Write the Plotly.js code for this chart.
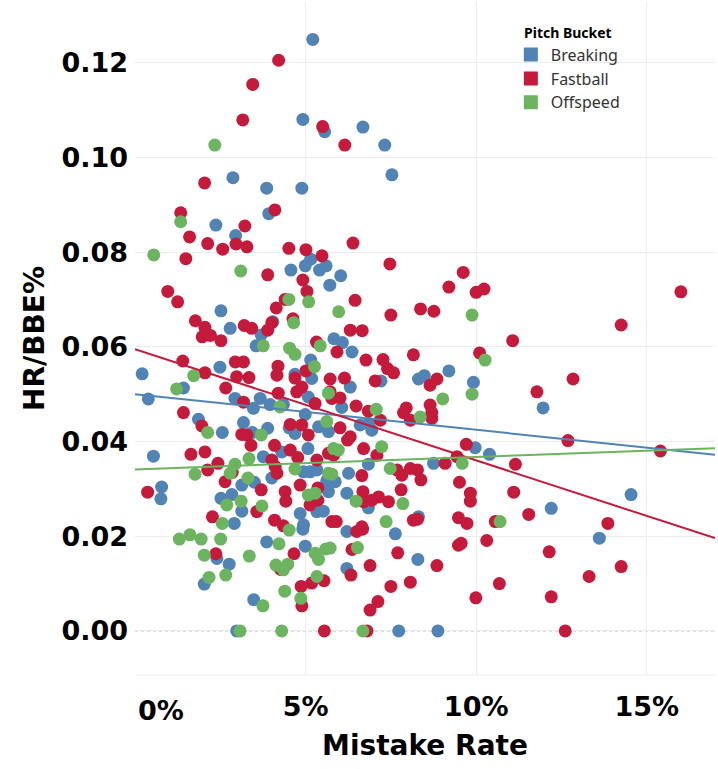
<!DOCTYPE html>
<html>
<head>
<meta charset="utf-8">
<script src="https://cdn.plot.ly/plotly-3.0.1.min.js"></script>
<style>
  html, body { margin: 0; padding: 0; background: #fff; }
  #chart { width: 718px; height: 769px; }
</style>
</head>
<body>
<div id="chart"></div>
<script>
// Mistake rate (%) and HR/BBE% per pitcher
const breakingX = [5.21, 4.92, 5.56, 6.68, 7.32, 7.53, 2.87, 3.86, 4.89, 3.92, 2.37, 2.95, 5.15, 4.99, 4.57, 5.41,
    5.60, 6.03, 5.71, 2.52, 2.79, 4.04, 3.70, 3.55, 5.83, 6.08, 6.36, 2.49, 5.15, 0.21, 4.69, 9.20, 8.48, 8.31,
    7.21, 9.92, 5.18, 1.42, 0.39, 2.93, 3.67, 3.47, 3.96, 4.35, 5.08, 4.99, 1.86, 2.56, 3.18, 3.44, 3.89, 4.52,
    4.69, 5.38, 5.67, 4.30, 5.07, 0.54, 3.76, 3.13, 3.50, 4.01, 4.94, 5.13, 5.33, 5.62, 5.67, 5.33, 5.52, 4.84,
    0.78, 0.76, 2.52, 2.84, 3.13, 2.91, 4.94, 6.31, 6.06, 6.60, 6.94, 6.85, 6.84, 8.75, 9.97, 10.39, 6.26, 5.87,
    6.21, 6.84, 8.31, 11.96, 14.54, 12.20, 4.92, 3.86, 4.99, 2.40, 2.76, 2.03, 3.48, 6.21, 7.63, 8.29, 6.21,
    13.61, 2.98, 7.73, 8.88];
const breakingY = [0.1249, 0.1080, 0.1054, 0.1064, 0.1026, 0.0963, 0.0957, 0.0935, 0.0935, 0.0881, 0.0857, 0.0835,
    0.0785, 0.0771, 0.0762, 0.0762, 0.0771, 0.0750, 0.0730, 0.0676, 0.0639, 0.0653, 0.0625, 0.0602, 0.0617,
    0.0609, 0.0589, 0.0557, 0.0572, 0.0543, 0.0542, 0.0549, 0.0539, 0.0532, 0.0528, 0.0525, 0.0533, 0.0513,
    0.0490, 0.0491, 0.0491, 0.0470, 0.0478, 0.0478, 0.0494, 0.0457, 0.0447, 0.0419, 0.0440, 0.0419, 0.0428,
    0.0429, 0.0417, 0.0431, 0.0421, 0.0378, 0.0385, 0.0369, 0.0368, 0.0308, 0.0314, 0.0323, 0.0336, 0.0336,
    0.0340, 0.0317, 0.0294, 0.0252, 0.0253, 0.0248, 0.0304, 0.0279, 0.0280, 0.0288, 0.0253, 0.0227, 0.0224,
    0.0515, 0.0472, 0.0435, 0.0424, 0.0438, 0.0352, 0.0354, 0.0387, 0.0373, 0.0333, 0.0315, 0.0291, 0.0260,
    0.0241, 0.0471, 0.0288, 0.0259, 0.0215, 0.0188, 0.0179, 0.0153, 0.0141, 0.0099, 0.0066, 0.0210, 0.0205,
    0.0151, 0.0132, 0.0196, 0, 0, 0];

const fastballX = [4.21, 3.45, 3.16, 5.50, 6.15, 2.04, 4.10, 1.34, 3.22, 1.60, 2.13, 2.57, 2.96, 3.28, 1.49, 3.89,
    4.51, 5.01, 5.48, 4.92, 5.04, 6.39, 0.96, 1.25, 6.45, 4.40, 4.14, 1.77, 2.05, 3.20, 3.42, 4.01, 4.63, 1.97,
    2.21, 2.52, 3.89, 6.31, 5.32, 5.92, 1.40, 2.94, 3.18, 4.19, 5.01, 2.05, 2.98, 3.34, 4.16, 4.69, 5.72, 6.14,
    7.47, 9.62, 9.20, 10.00, 10.23, 7.50, 8.37, 8.76, 6.66, 11.07, 6.77, 7.27, 8.16, 10.10, 7.40, 7.58, 8.85,
    7.04, 16.00, 14.25, 12.84, 2.66, 3.18, 4.20, 4.89, 4.74, 5.28, 5.77, 1.42, 1.96, 3.13, 3.28, 3.40, 4.55,
    4.89, 5.08, 4.09, 4.55, 4.77, 5.33, 5.67, 1.64, 2.05, 2.43, 2.13, 2.85, 4.01, 4.11, 4.16, 2.64, 3.70, 4.84,
    4.40, 4.42, 5.36, 5.36, 5.13, 0.37, 3.57, 2.27, 4.09, 4.35, 5.77, 8.65, 5.72, 6.01, 6.48, 6.84, 7.19, 6.01,
    7.95, 7.87, 8.07, 8.65, 8.70, 8.70, 6.31, 6.23, 6.70, 7.09, 5.82, 7.68, 7.82, 8.07, 8.28, 8.38, 7.80, 9.09,
    9.44, 9.71, 11.15, 6.65, 6.68, 6.70, 7.14, 7.43, 6.94, 9.51, 9.83, 9.83, 11.10, 11.54, 5.90, 6.65, 8.16,
    8.28, 9.48, 9.73, 10.56, 11.78, 12.69, 15.40, 13.86, 4.66, 2.37, 4.27, 4.87, 5.18, 5.54, 4.89, 6.50, 6.67,
    6.36, 7.70, 9.48, 9.56, 10.31, 8.85, 6.33, 6.89, 7.50, 8.07, 10.68, 9.99, 7.12, 6.89, 12.14, 14.25, 13.31,
    12.20, 5.55, 6.80, 12.61];
const fastballY = [0.1205, 0.1154, 0.1079, 0.1065, 0.1026, 0.0946, 0.0889, 0.0883, 0.0855, 0.0832, 0.0818, 0.0806,
    0.0817, 0.0811, 0.0786, 0.0752, 0.0808, 0.0805, 0.0792, 0.0741, 0.0717, 0.0819, 0.0717, 0.0695, 0.0698,
    0.0700, 0.0682, 0.0655, 0.0641, 0.0645, 0.0639, 0.0651, 0.0659, 0.0621, 0.0624, 0.0613, 0.0635, 0.0635,
    0.0610, 0.0589, 0.0570, 0.0568, 0.0568, 0.0559, 0.0549, 0.0545, 0.0537, 0.0535, 0.0540, 0.0534, 0.0532,
    0.0534, 0.0775, 0.0757, 0.0726, 0.0715, 0.0722, 0.0667, 0.0680, 0.0675, 0.0634, 0.0613, 0.0572, 0.0573,
    0.0583, 0.0587, 0.0554, 0.0545, 0.0532, 0.0528, 0.0716, 0.0646, 0.0532, 0.0513, 0.0483, 0.0502, 0.0515,
    0.0505, 0.0480, 0.0491, 0.0461, 0.0433, 0.0415, 0.0414, 0.0392, 0.0436, 0.0435, 0.0414, 0.0392, 0.0382,
    0.0366, 0.0361, 0.0375, 0.0373, 0.0378, 0.0354, 0.0340, 0.0335, 0.0361, 0.0347, 0.0333, 0.0315, 0.0298,
    0.0308, 0.0294, 0.0274, 0.0302, 0.0276, 0.0266, 0.0293, 0.0252, 0.0241, 0.0234, 0.0222, 0.0231, 0.0519,
    0.0505, 0.0492, 0.0475, 0.0464, 0.0445, 0.0429, 0.0471, 0.0461, 0.0445, 0.0477, 0.0461, 0.0449, 0.0410,
    0.0403, 0.0385, 0.0371, 0.0371, 0.0340, 0.0329, 0.0343, 0.0340, 0.0319, 0.0298, 0.0354, 0.0368, 0.0394,
    0.0352, 0.0328, 0.0294, 0.0273, 0.0283, 0.0273, 0.0276, 0.0314, 0.0291, 0.0274, 0.0293, 0.0246, 0.0231,
    0.0220, 0.0234, 0.0236, 0.0239, 0.0227, 0.0231, 0.0505, 0.0402, 0.0380, 0.0227, 0.0163, 0.0163, 0.0130,
    0.0094, 0.0101, 0.0106, 0.0053, 0.0210, 0.0215, 0.0172, 0.0165, 0.0181, 0.0185, 0.0191, 0.0138, 0.0118,
    0.0138, 0.0094, 0.0103, 0.0100, 0.0070, 0.0062, 0.0044, 0.0167, 0.0136, 0.0115, 0.0072, 0, 0, 0];

const offspeedX = [2.34, 1.34, 0.55, 3.10, 4.51, 5.09, 5.97, 4.65, 3.76, 5.43, 4.53, 4.69, 5.26, 1.72, 9.88, 10.26,
    1.22, 4.25, 5.67, 2.13, 3.70, 5.62, 5.82, 1.76, 2.93, 3.34, 2.79, 3.31, 4.69, 5.67, 5.08, 5.28, 2.69, 3.11,
    3.72, 2.56, 9.88, 9.02, 7.07, 8.36, 7.23, 5.96, 7.48, 9.59, 5.77, 6.48, 7.85, 7.36, 10.70, 4.52, 1.30, 1.61,
    1.94, 2.51, 4.22, 5.28, 5.59, 5.38, 2.03, 3.35, 4.13, 4.48, 4.35, 2.17, 2.66, 5.33, 4.39, 4.86, 3.75, 5.72,
    6.52, 3.08, 4.30, 6.68];
const offspeedY = [0.1026, 0.0864, 0.0794, 0.0760, 0.0700, 0.0695, 0.0674, 0.0651, 0.0602, 0.0602, 0.0597, 0.0584,
    0.0558, 0.0539, 0.0667, 0.0572, 0.0511, 0.0473, 0.0502, 0.0419, 0.0414, 0.0442, 0.0385, 0.0331, 0.0352,
    0.0364, 0.0333, 0.0323, 0.0342, 0.0333, 0.0287, 0.0291, 0.0266, 0.0274, 0.0264, 0.0227, 0.0500, 0.0490,
    0.0468, 0.0452, 0.0389, 0.0382, 0.0343, 0.0354, 0.0331, 0.0274, 0.0269, 0.0231, 0.0231, 0.0213, 0.0194,
    0.0203, 0.0194, 0.0194, 0.0184, 0.0164, 0.0173, 0.0151, 0.0160, 0.0158, 0.0139, 0.0141, 0.0129, 0.0113,
    0.0118, 0.0115, 0.0084, 0.0069, 0.0053, 0.0175, 0.0176, 0, 0, 0];

// linear trend lines, ends
const trendX = [0, 17];
const breakingTrend = [0.0500, 0.0372];
const fastballTrend = [0.0595, 0.0196];
const offspeedTrend = [0.0341, 0.0386];

const xTicks = [0, 5, 10, 15];
const xTickText = ['', '5%', '10%', '15%'];
const yTicks = [0, 0.02, 0.04, 0.06, 0.08, 0.10, 0.12];

const BLUE = '#5283b5';
const RED = '#c41a3c';
const GREEN = '#6cb460';

function dots(x, y, color) {
    return {
        x: x, y: y, type: 'scatter', mode: 'markers', showlegend: false, hoverinfo: 'skip',
        marker: { color: color, size: 13, line: { width: 0 } }
    };
}

function trend(y, color) {
    return {
        x: trendX, y: y, type: 'scatter', mode: 'lines', showlegend: false, hoverinfo: 'skip',
        line: { color: color, width: 2 }
    };
}

function legendItem(name, color) {
    return {
        x: [null], y: [null], type: 'scatter', mode: 'markers', name: name,
        marker: { color: color, size: 14, symbol: 'square' }
    };
}

const traces = [
    dots(breakingX, breakingY, BLUE),
    dots(fastballX, fastballY, RED),
    dots(offspeedX, offspeedY, GREEN),
    trend(breakingTrend, BLUE),
    trend(fastballTrend, RED),
    trend(offspeedTrend, GREEN),
    legendItem('Breaking', BLUE),
    legendItem('Fastball', RED),
    legendItem('Offspeed', GREEN)
];

const axisFont = { family: 'DejaVu Sans, sans-serif', size: 27, color: '#000', weight: 'bold' };

const layout = {
    width: 718,
    height: 769,
    margin: { l: 135, r: 3, t: 2, b: 94 },
    paper_bgcolor: '#fff',
    plot_bgcolor: '#fff',
    font: { family: 'DejaVu Sans, sans-serif', color: '#000' },
    xaxis: {
        range: [0, 17],
        tickvals: xTicks,
        ticktext: xTickText,
        tickfont: axisFont,
        ticks: '',
        ticklabelstandoff: 13,
        showgrid: true,
        gridcolor: '#ececec',
        zeroline: false,
        showline: false,
        title: { text: 'Mistake Rate', font: { ...axisFont, size: 28 }, standoff: 14 }
    },
    yaxis: {
        range: [-0.0093, 0.1328],
        tickvals: yTicks,
        tickformat: '.2f',
        tickfont: axisFont,
        ticks: '',
        ticklabelstandoff: 6,
        showgrid: true,
        gridcolor: '#ececec',
        zeroline: false,
        showline: false,
        title: { text: 'HR/BBE%', font: { ...axisFont, size: 28 }, standoff: 8 }
    },
    shapes: [
        { type: 'line', xref: 'paper', yref: 'y', x0: 0, x1: 1, y0: 0, y1: 0,
          line: { color: '#b5b5b5', width: 1, dash: 'dot' }, layer: 'below' },
        { type: 'line', xref: 'paper', yref: 'paper', x0: 0, x1: 1, y0: 0, y1: 0,
          line: { color: '#ececec', width: 1 }, layer: 'below' }
    ],
    annotations: [
        { text: '0%', xref: 'paper', yref: 'paper', x: 0, y: 0, xanchor: 'left', yanchor: 'top',
          yshift: -18, xshift: 1, showarrow: false, font: axisFont }
    ],
    legend: {
        x: 0.648, y: 0.974, xanchor: 'left', yanchor: 'top',
        bgcolor: 'rgba(0,0,0,0)',
        font: { family: 'Noto Sans, sans-serif', size: 16, color: '#333' },
        title: { text: 'Pitch Bucket', side: 'top center',
                 font: { family: 'Noto Sans, sans-serif', size: 14, color: '#000', weight: 'bold' } },
        itemclick: false, itemdoubleclick: false
    }
};

Plotly.newPlot('chart', traces, layout, { displayModeBar: false, staticPlot: true });
</script>
</body>
</html>
